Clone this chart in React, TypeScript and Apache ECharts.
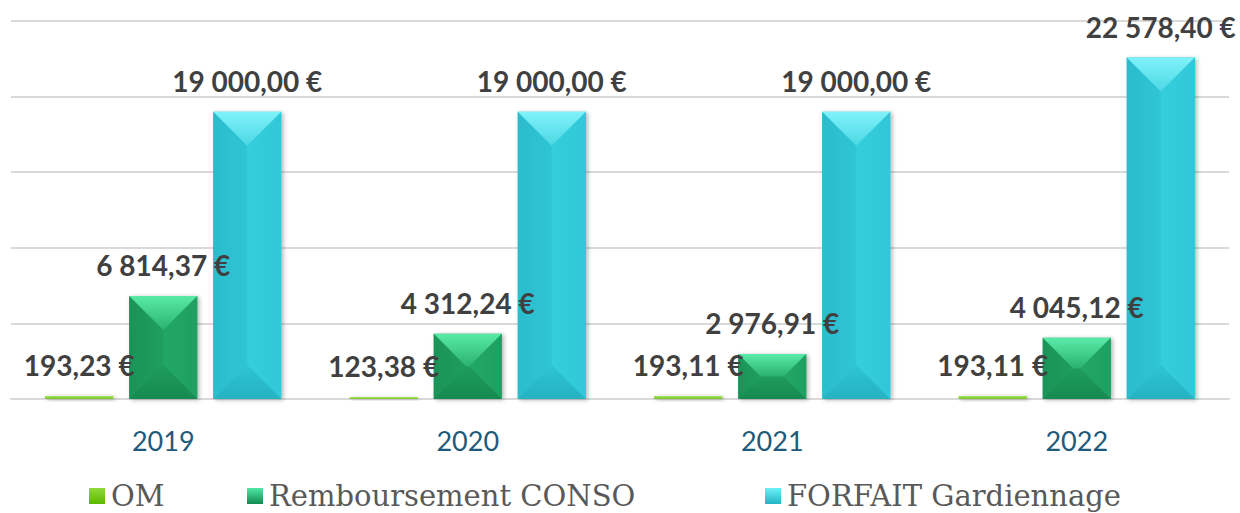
import React, { useEffect, useRef } from "react";
import * as echarts from "echarts";

const categories = ["2019", "2020", "2021", "2022"];
const omValues = [193.23, 123.38, 193.11, 193.11];
const rembValues = [6814.37, 4312.24, 2976.91, 4045.12];
const forfaitValues = [19000.0, 19000.0, 19000.0, 22578.4];
const seriesNames = ["OM", "Remboursement CONSO", "FORFAIT Gardiennage"];

const yMin = 0;
const yMax = 25000;
const yInterval = 5000;

type Palette = {
  body: string;
  top: [string, string];
  left: [string, string];
  right: [string, string];
  bottom: [string, string];
  legend: [string, string];
};

const palettes: Palette[] = [
  {
    body: "#8CD43C",
    top: ["#A8E85A", "#8CD43C"],
    left: ["#84CC34", "#8CD43C"],
    right: ["#94D846", "#8AD23A"],
    bottom: ["#88D03A", "#7CC42C"],
    legend: ["#8FD83E", "#5CB800"],
  },
  {
    body: "#1E9E60",
    top: ["#5AEAA8", "#2AB272"],
    left: ["#1B9358", "#1E9E60"],
    right: ["#22A767", "#1F9F61"],
    bottom: ["#1E9C5E", "#168A50"],
    legend: ["#4FE8A4", "#138A50"],
  },
  {
    body: "#2FC6D6",
    top: ["#80F2FA", "#4CD8E4"],
    left: ["#2BBCCD", "#2FC5D5"],
    right: ["#35CEDC", "#30C8D8"],
    bottom: ["#2EC4D4", "#25B2C2"],
    legend: ["#6FF0F8", "#22B4C4"],
  },
];

function fmt(v: number): string {
  const [i, d] = v.toFixed(2).split(".");
  return i.replace(/\B(?=(\d{3})+(?!\d))/g, " ") + "," + d + " €";
}

function grad(c: [string, string], horizontal = false) {
  return new echarts.graphic.LinearGradient(0, 0, horizontal ? 1 : 0, horizontal ? 0 : 1, [
    { offset: 0, color: c[0] },
    { offset: 1, color: c[1] },
  ]);
}

function makeRender(idx: number) {
  const pal = palettes[idx];
  return (params: any, api: any) => {
    const cat = api.value(0);
    const val = api.value(1);
    const base = api.coord([cat, 0]);
    const topPt = api.coord([cat, val]);
    const band = api.size([1, 0])[0];
    const bw = band * (68 / 304.5);
    const gap = band * (16 / 304.5);
    const cx = base[0] + (idx - 1) * (bw + gap);
    const x0 = cx - bw / 2;
    const x1 = cx + bw / 2;
    const yT = topPt[1];
    const yB = base[1];
    const h = yB - yT;
    const d = Math.min(bw / 2, h / 2);
    const children: any[] = [
      {
        type: "rect",
        shape: { x: x0, y: yT, width: bw, height: h },
        style: {
          fill: pal.body,
          shadowBlur: 4,
          shadowOffsetX: 2,
          shadowOffsetY: 1,
          shadowColor: "rgba(0,0,0,0.3)",
        },
        z2: 1,
      },
      {
        type: "polygon",
        shape: { points: [[x0, yT], [x0 + d, yT + d], [x0 + d, yB - d], [x0, yB]] },
        style: { fill: grad(pal.left, true) },
        z2: 2,
      },
      {
        type: "polygon",
        shape: { points: [[x1, yT], [x1 - d, yT + d], [x1 - d, yB - d], [x1, yB]] },
        style: { fill: grad(pal.right, true) },
        z2: 2,
      },
      {
        type: "polygon",
        shape: { points: [[x0, yB], [x1, yB], [x1 - d, yB - d], [x0 + d, yB - d]] },
        style: { fill: grad(pal.bottom) },
        z2: 2,
      },
      {
        type: "polygon",
        shape: { points: [[x0, yT], [x1, yT], [x1 - d, yT + d], [x0 + d, yT + d]] },
        style: { fill: grad(pal.top) },
        z2: 3,
      },
      {
        type: "text",
        x: cx,
        y: yT - 17,
        z2: 100,
        style: {
          text: fmt(val),
          align: "center",
          verticalAlign: "bottom",
          fill: "#404040",
          fontFamily: "Lato",
          fontWeight: "bold",
          fontSize: 28,
        },
      },
    ];
    return { type: "group", children };
  };
}

const seriesValues = [omValues, rembValues, forfaitValues];
const legendLefts = [89, 247, 765];

export default function App() {
  const ref = useRef<HTMLDivElement>(null);
  useEffect(() => {
    if (!ref.current) return;
    const chart = echarts.init(ref.current, undefined, { renderer: "svg" });
    chart.setOption({
      animation: false,
      backgroundColor: "#ffffff",
      grid: { left: 11, right: 11, top: 21, bottom: 114, containLabel: false },
      legend: seriesNames.map((name, i) => ({
        data: [
          {
            name,
            icon: "rect",
            itemStyle: { color: grad(palettes[i].legend) },
          },
        ],
        left: legendLefts[i],
        top: 481,
        padding: 0,
        itemWidth: 16,
        itemHeight: 16,
        selectedMode: false,
        textStyle: {
          fontFamily: "DejaVu Serif",
          fontSize: 29,
          lineHeight: 30,
          color: "#595959",
          padding: [0, 0, 0, 1],
        },
      })),
      xAxis: {
        type: "category",
        data: categories,
        axisLine: { show: true, lineStyle: { color: "#d9d9d9", width: 2 } },
        axisTick: { show: false },
        axisLabel: {
          color: "#1F5A78",
          fontFamily: "Lato",
          fontSize: 27,
          margin: 28,
        },
        splitLine: { show: false },
      },
      yAxis: {
        type: "value",
        min: yMin,
        max: yMax,
        interval: yInterval,
        axisLine: { show: false },
        axisTick: { show: false },
        axisLabel: { show: false },
        splitLine: { show: true, lineStyle: { color: "#d9d9d9", width: 2 } },
      },
      series: seriesNames.map((name, i) => ({
        type: "custom",
        name,
        z: 2,
        itemStyle: { color: palettes[i].legend[1] },
        encode: { x: 0, y: 1 },
        data: seriesValues[i].map((v, k) => [k, v]),
        renderItem: makeRender(i),
      })),
    });
    return () => chart.dispose();
  }, []);
  return (
    <div
      ref={ref}
      style={{ position: "fixed", left: 0, top: 0, width: 1240, height: 513 }}
    />
  );
}
